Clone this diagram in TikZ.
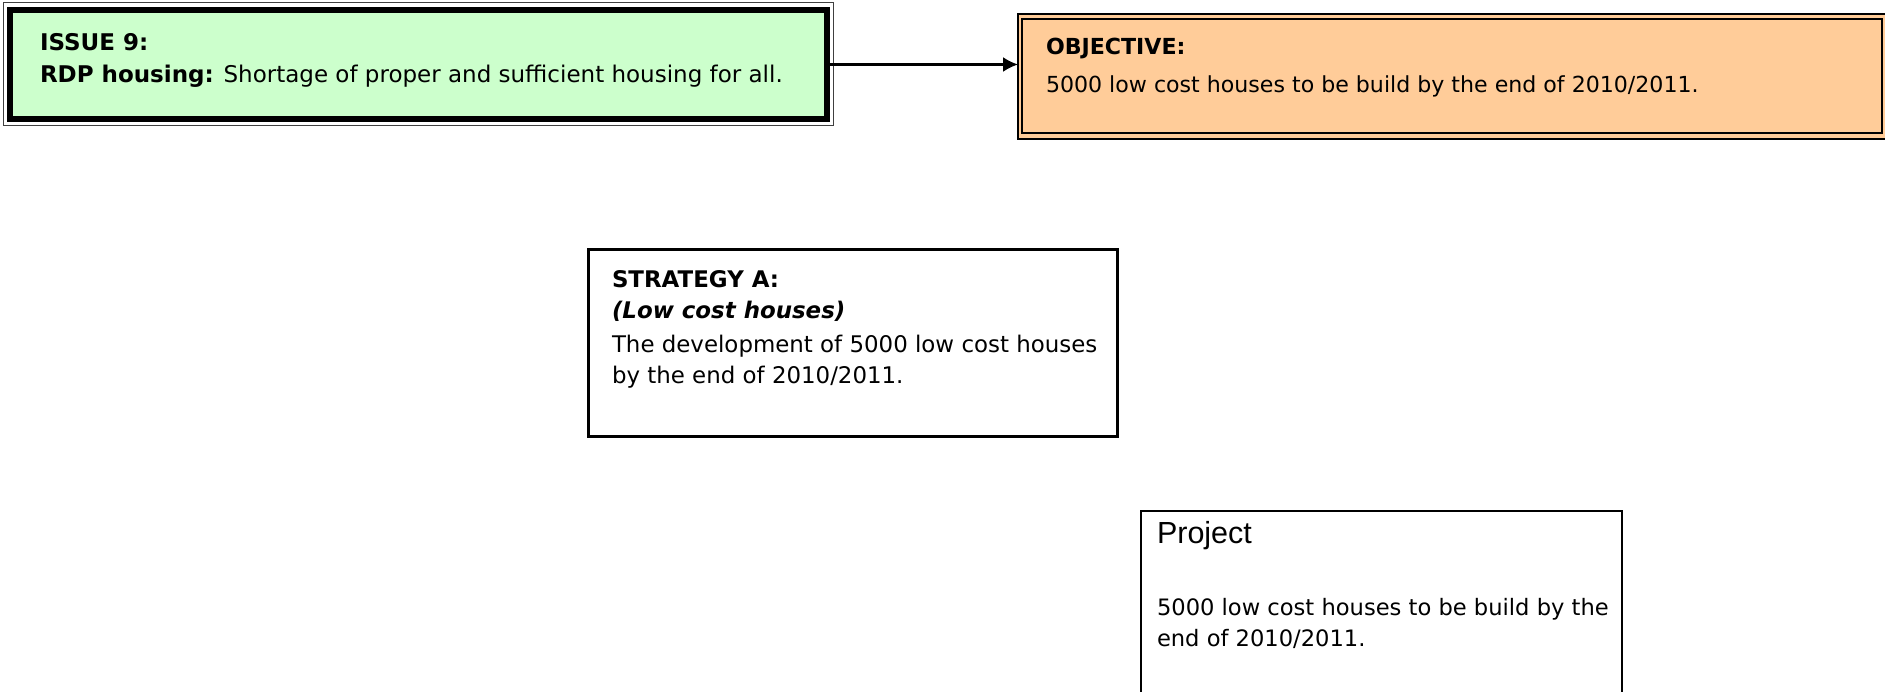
\documentclass[tikz,border=0pt]{standalone}
\usepackage{fontspec}
\setmainfont{DejaVu Sans}
\newfontfamily\arialf{Liberation Sans}
\usetikzlibrary{arrows.meta}
\definecolor{issuegreen}{HTML}{CCFFCC}
\definecolor{objorange}{HTML}{FFCC99}
\tikzset{
  boxbase/.style={rectangle, draw=black, outer sep=0pt, inner sep=0pt},
  txt/.style={anchor=base west, inner sep=0pt, outer sep=0pt},
  issuetxt/.style={txt, font=\fontsize{23}{28}\selectfont},
  objtxt/.style={txt, font=\fontsize{22.1}{27}\selectfont},
  midtxt/.style={txt, font=\fontsize{22.9}{28}\selectfont},
  projtxt/.style={txt, font=\fontsize{22.6}{28}\selectfont},
  connector/.style={draw=black, line width=2.2pt, -{Latex[length=15pt,width=15pt]}}
}
\begin{document}
\begin{tikzpicture}[x=1pt,y=-1pt]
\useasboundingbox (0,0) rectangle (1885,692);
\clip (0,0) rectangle (1885,692);
% Issue box
\node[boxbase, draw=black!75, line width=1pt, minimum width=830pt, minimum height=123pt] (issueout) at (418,64.5) {};
\node[boxbase, fill=issuegreen, line width=6pt, minimum width=817pt, minimum height=109pt] (issue) at (418.5,64.5) {};
\node[issuetxt] (issuet1) at (40,51) {\textbf{ISSUE 9:}};
\node[issuetxt] (issuet2) at (40,83) {\textbf{RDP housing:} Shortage of proper and sufficient housing for all.};
% Objective box
\node[boxbase, fill=objorange, line width=2pt, minimum width=872pt, minimum height=125pt] (objout) at (1454,76.5) {};
\node[boxbase, fill=objorange, line width=2.8pt, minimum width=860pt, minimum height=114pt] (obj) at (1452,76) {};
\node[objtxt] (objt1) at (1046,55) {\textbf{OBJECTIVE:}};
\node[objtxt] (objt2) at (1046,93) {5000 low cost houses to be build by the end of 2010/2011.};
% Connector
\draw[connector] (issue.east) -- (issue.east -| objout.west);
% Strategy box
\node[boxbase, line width=3pt, minimum width=529pt, minimum height=186pt] (strat) at (852.5,343) {};
\node[midtxt] (st1) at (612,288) {\textbf{STRATEGY A:}};
\node[midtxt] (st2) at (612,319) {\textbf{\itshape (Low cost houses)}};
\node[midtxt] (st3) at (612,353) {The development of 5000 low cost houses};
\node[midtxt] (st4) at (612,384) {by the end of 2010/2011.};
% Project box
\node[boxbase, line width=1.6pt, minimum width=481pt, minimum height=220pt] (proj) at (1381.5,621) {};
\node[txt, font=\arialf\fontsize{30.5}{36}\selectfont] (pt1) at (1157,543) {Project};
\node[projtxt] (pt2) at (1157,615) {5000 low cost houses to be build by the};
\node[projtxt] (pt3) at (1157,646) {end of 2010/2011.};
\end{tikzpicture}
\end{document}
